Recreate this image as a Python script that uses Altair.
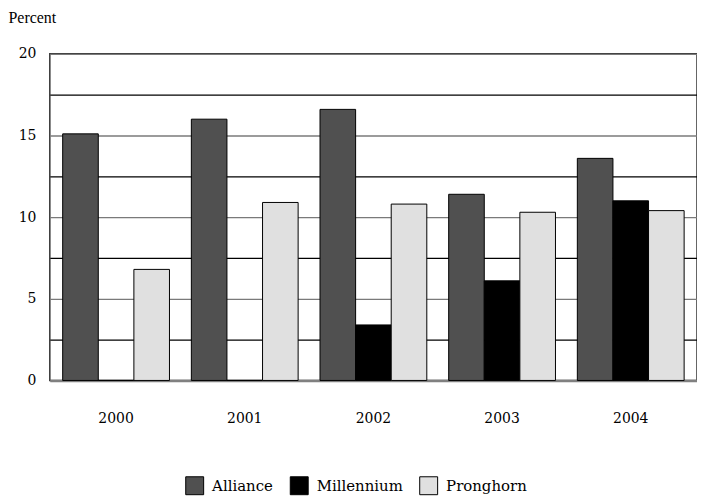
import altair as alt
import pandas as pd

years = ["2000", "2001", "2002", "2003", "2004"]
series = ["Alliance", "Millennium", "Pronghorn"]
alliance = [15.1, 16.0, 16.6, 11.4, 13.6]
millennium = [0.0, 0.0, 3.4, 6.1, 11.0]
pronghorn = [6.8, 10.9, 10.8, 10.3, 10.4]
colors = ["#505050", "#000000", "#e0e0e0"]
y_ticks = [0, 2.5, 5, 7.5, 10, 12.5, 15, 17.5, 20]

rows = []
for name, vals in zip(series, [alliance, millennium, pronghorn]):
    for yr, v in zip(years, vals):
        rows.append({"Year": yr, "Series": name, "Value": v})
df = pd.DataFrame(rows)

TFONT = "Liberation Serif"
LFONT = "DejaVu Serif"

chart = alt.Chart(df).mark_bar(stroke="#000000", strokeWidth=1).encode(
    x=alt.X("Year:N", sort=years,
            scale=alt.Scale(paddingInner=0.17, paddingOuter=0.1),
            axis=alt.Axis(title=None, labelAngle=0, ticks=False, domain=True,
                          domainColor="#808080", domainWidth=2.5,
                          labelPadding=31)),
    xOffset=alt.XOffset("Series:N", sort=series, scale=alt.Scale(paddingInner=0, paddingOuter=0)),
    y=alt.Y("Value:Q", scale=alt.Scale(domain=[0, 20], nice=False),
            axis=alt.Axis(values=y_ticks, title="Percent", titleAngle=0,
                          titleAlign="left", titleBaseline="middle",
                          titleX=-42, titleY=-36,
                          titleFontWeight="normal",
                          labelExpr="datum.value % 5 === 0 ? datum.value : ''",
                          labelPadding=14, ticks=False, domain=False,
                          gridColor={"condition": {"test": "datum.value % 5 === 0", "value": "#7a7a7a"}, "value": "#000000"},
                          gridWidth=1.3)),
    color=alt.Color("Series:N", sort=series,
                    scale=alt.Scale(domain=series, range=colors),
                    legend=alt.Legend(title=None, orient="none", direction="horizontal",
                                      legendX=136, legendY=424, symbolType="square",
                                      symbolSize=324, symbolStrokeColor="#000",
                                      symbolStrokeWidth=1, symbolOpacity=1,
                                      columnPadding=14, labelOffset=8)),
).properties(
    width=650, height=328,
    autosize=alt.AutoSizeParams(type="none"),
    padding={"left": 42, "top": 45, "right": 0, "bottom": 115},
).configure(font=TFONT).configure_axis(
    labelFont=LFONT, labelFontSize=14, labelColor="#000",
    titleFont=TFONT, titleFontSize=16, titleColor="#000",
).configure_legend(
    labelFont=LFONT, labelFontSize=15, labelColor="#000",
).configure_view(stroke="#333333", strokeWidth=1.5)

chart.save("out.html", embed_options={"renderer": "svg", "actions": False})
